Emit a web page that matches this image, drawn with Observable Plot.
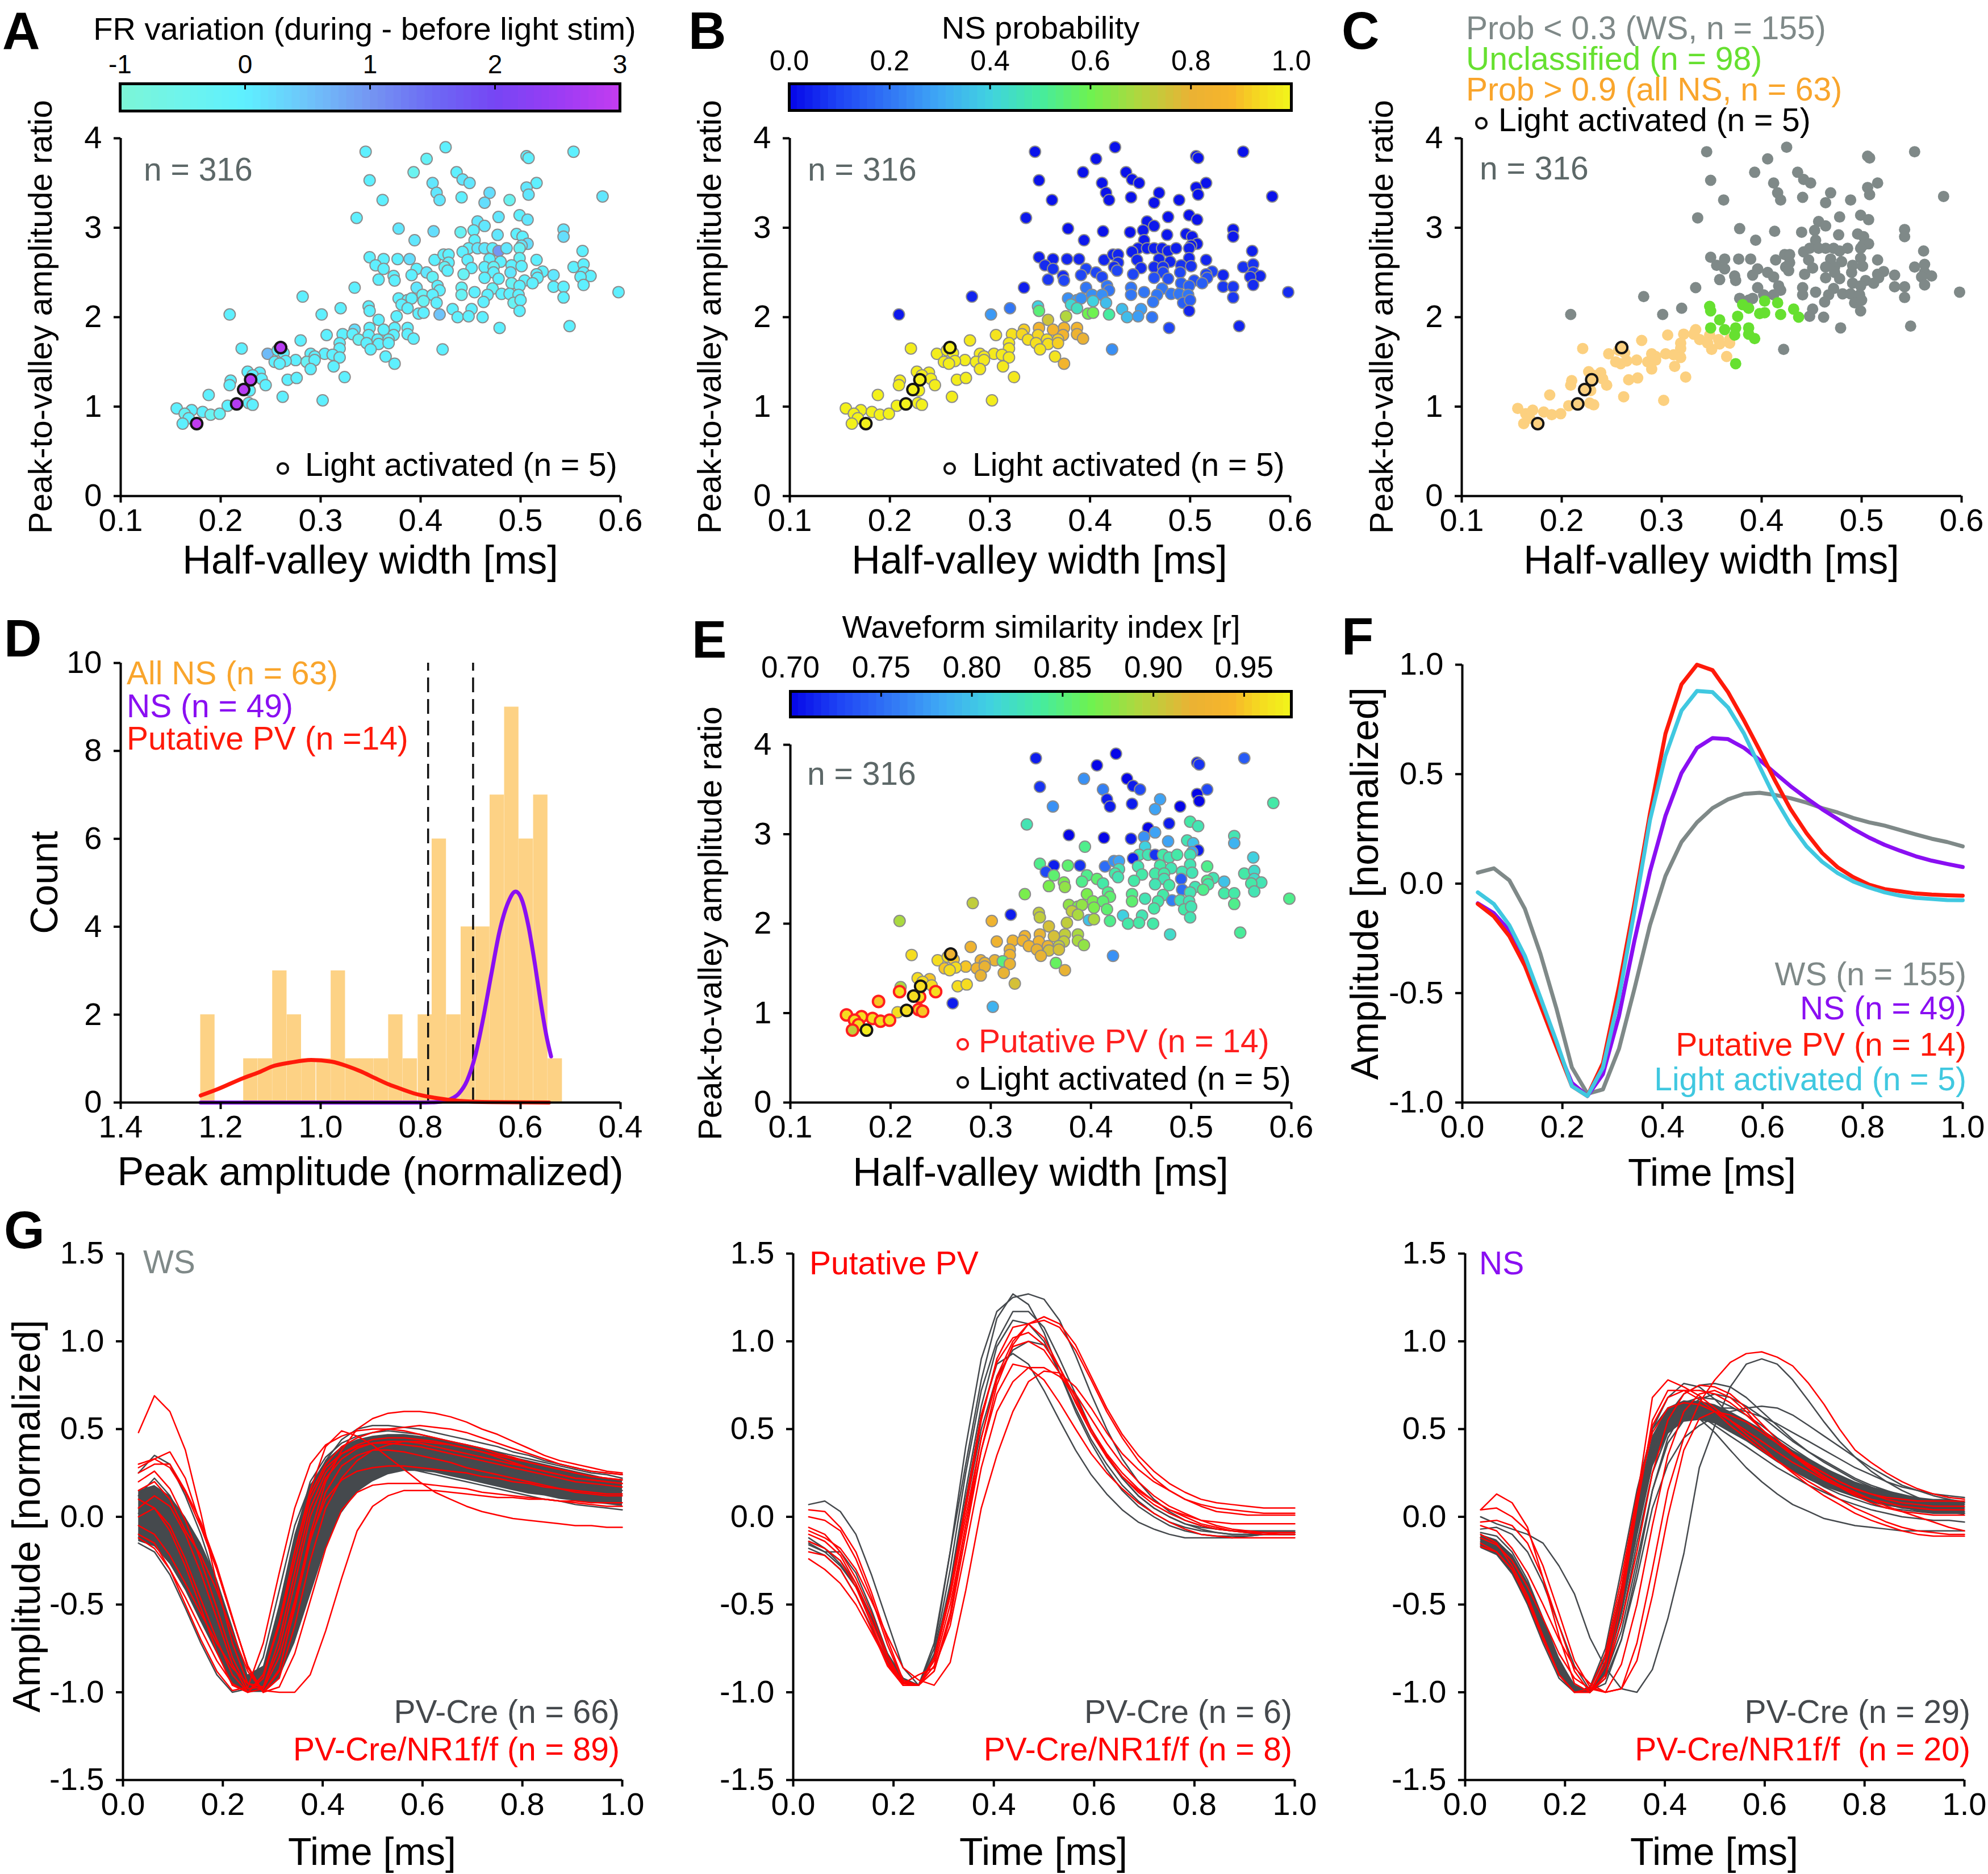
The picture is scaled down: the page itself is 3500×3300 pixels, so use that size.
<!DOCTYPE html>
<html><head><meta charset="utf-8">
<script src="https://cdn.jsdelivr.net/npm/d3@7"></script>
<script src="https://cdn.jsdelivr.net/npm/@observablehq/plot@0.6"></script>
<style>
html,body{margin:0;padding:0;background:#fff;}
#fig{position:relative;width:3500px;height:3300px;overflow:hidden;background:#fff;}
.p{position:absolute;}
</style></head><body><div id="fig"></div>
<script>
// ================= DATA =================
// Scatter (panels A, B, C, E): one entry per unit
const hvw = [ // half-valley width [ms]
0.345,0.425,0.506,0.508,0.553,0.406,0.393,0.436,0.442,0.449,0.349,0.412,0.516,0.506,0.416,0.469,0.508,0.582,0.362,0.419,0.441,0.464,0.489,0.336,0.478,0.499,0.507,0.457,0.464,
0.378,0.413,0.440,0.453,0.477,0.496,0.502,0.543,0.543,0.394,0.454,0.507,0.501,
0.448,0.457,0.464,0.472,0.478,0.486,0.499,0.562,0.442,0.349,0.363,0.377,0.389,0.414,0.423,0.428,0.447,0.469,0.480,0.499,0.516,
0.355,0.428,0.424,0.451,0.464,0.491,0.501,0.473,0.553,0.563,0.363,0.396,0.427,0.522,0.406,0.443,0.473,0.490,0.563,0.516,0.533,0.570,0.391,0.373,0.412,0.464,0.478,0.504,0.517,0.560,0.358,0.374,
0.512,0.491,0.499,0.417,0.563,0.334,0.396,0.441,0.533,0.543,0.419,0.454,0.472,0.441,0.467,0.481,0.489,0.498,0.598,0.402,0.412,0.378,0.387,0.391,0.403,0.416,0.463,0.493,0.543,0.500,
0.381,0.387,0.348,0.320,0.432,0.451,0.349,0.398,0.403,0.499,0.419,0.376,0.437,0.448,0.462,0.301,0.282,0.209,0.358,
0.479,0.549,0.349,0.374,0.387,0.334,0.363,0.322,0.332,0.306,0.348,0.373,0.387,0.338,0.357,0.368,0.393,0.280,0.319,0.346,0.358,0.368,
0.260,0.221,0.422,0.350,0.319,0.247,0.257,0.263,0.290,0.304,0.312,0.319,0.294,0.365,0.275,0.286,0.254,0.265,0.259,0.294,0.374,
0.313,0.290,0.227,0.239,0.232,0.324,0.267,0.276,0.230,0.241,0.210,0.209,0.245,
0.223,0.229,0.188,0.262,0.302,0.216,0.228,0.232,0.207,0.156,0.171,0.164,0.182,0.190,0.199,0.168,0.162,0.176];
const pva = [ // peak-to-valley amplitude ratio
3.85,3.90,3.80,3.78,3.85,3.77,3.62,3.62,3.54,3.50,3.53,3.50,3.50,3.45,3.39,3.39,3.37,3.35,3.31,3.31,3.34,3.28,3.31,3.11,3.12,3.14,3.09,3.07,3.02,
2.99,2.96,2.95,2.97,2.92,2.93,2.90,2.98,2.90,2.86,2.86,2.82,2.80,
2.77,2.77,2.77,2.77,2.74,2.77,2.77,2.74,2.73,2.67,2.65,2.65,2.65,2.64,2.70,2.70,2.64,2.65,2.62,2.66,2.64,
2.58,2.61,2.56,2.55,2.56,2.58,2.57,2.56,2.56,2.59,2.54,2.54,2.52,2.51,2.50,2.48,2.50,2.50,2.50,2.48,2.47,2.46,2.47,2.46,2.45,2.44,2.43,2.41,2.44,2.45,2.42,2.41,
2.38,2.38,2.35,2.35,2.36,2.33,2.33,2.33,2.34,2.34,2.30,2.28,2.32,2.25,2.25,2.26,2.26,2.25,2.28,2.25,2.25,2.21,2.19,2.21,2.18,2.16,2.17,2.16,2.22,2.19,
2.14,2.10,2.12,2.10,2.09,2.09,2.07,2.04,2.05,2.07,2.03,2.01,2.00,2.01,2.00,2.03,2.23,2.03,1.97,
1.88,1.90,1.88,1.88,1.88,1.86,1.86,1.81,1.81,1.80,1.80,1.80,1.81,1.75,1.75,1.75,1.76,1.74,1.71,1.71,1.70,1.71,
1.66,1.65,1.64,1.64,1.65,1.59,1.63,1.60,1.59,1.59,1.58,1.55,1.56,1.56,1.52,1.50,1.50,1.51,1.48,1.52,1.48,
1.45,1.42,1.39,1.38,1.35,1.33,1.30,1.32,1.30,1.31,1.29,1.24,1.24,
1.19,1.18,1.13,1.11,1.07,1.03,1.04,1.02,1.01,0.98,0.96,0.92,0.94,0.91,0.92,0.87,0.81,0.81];
const frVar = [ // FR variation (during - before light stim)
0,0,0,0,0,-0.2,-0.4,0,0.1,0.1,0,0.1,0,0.1,0.1,0.2,0.1,0.1,0,0.1,0,0.2,-0.4,0,0.1,0,0.1,0.1,0.1,
0.1,0.2,-0.3,0,0.1,0,0,0.1,0.2,0.1,0,0.2,0.1,
0,0.1,0.1,0,1.0,0.1,-0.3,0,0,0,0,0,0.2,0,0,0,0,0,0,-0.2,0,
0,0,-0.2,0,0,0,0,-0.2,0,0,0,0,0,0,0.1,-0.3,0,0.1,0,0,0.1,0,0,0,-0.2,0,0,0,0,0,0,0,
0,-0.3,0,0,0,0,0.1,-0.2,0,0,0,0,-0.2,-0.3,0,0,0,0,0,-0.2,0,0,0,0,-0.3,0,0,-0.3,0,0,
0,0,0,0,0,0,0,0,0,0,0.5,0,0,0,0,0,0,0,0,
0,0,0,0,0,0.2,0,0,0,0,0,0,0,-0.3,0,0,0,0,0,0,0,0,
2.85,0,0,0,0,0.6,0,0,0,0,0,0,0,0,0,-0.3,0,0,0,0,0,
0,0,0,0,0,0,0,0,2.9,0,0,0,0,
2.85,0,0,0,0,2.8,0,0,0,0,0,-0.3,0,-0.4,-0.2,0,0,2.95];
const nsProb = [ // NS probability
.02,.02,.02,.02,.02,.02,.02,.02,.02,.02,.02,.02,.02,.02,.02,.02,.02,.02,.02,.02,.02,.02,.02,.03,.02,.02,.02,.03,.03,
.02,.02,.02,.03,.03,.03,.03,.03,.03,.03,.03,.03,.03,
.04,.04,.04,.04,.04,.04,.04,.04,.04,.04,.04,.05,.05,.05,.05,.05,.05,.05,.05,.05,.05,
.06,.06,.06,.06,.06,.07,.07,.07,.07,.07,.07,.1,.1,.1,.1,.1,.1,.1,.08,.1,.05,.05,.1,.06,.1,.12,.12,.12,.12,.06,.08,.1,
.15,.15,.15,.2,.06,.04,.2,.2,.08,.08,.2,.2,.2,.2,.2,.2,.2,.2,.06,.25,.25,.25,.28,.25,.4,.35,.2,.15,.08,.15,
.42,.45,.4,.2,.35,.28,.55,.6,.6,.05,.5,.7,.35,.28,.2,.27,.05,.03,.75,
.1,.05,.85,.85,.85,.92,.85,.95,.93,.96,.93,.85,.82,.95,.95,.92,.8,.97,.97,.95,.95,.92,
.98,.98,.25,.96,.97,.98,.98,.98,.97,.97,.97,.97,.97,.96,.98,.98,.98,.98,.98,.97,.85,
.97,.97,.98,.98,.98,.97,.98,.98,.99,.98,.98,.98,.98,
.99,.99,.99,.98,.98,.99,.99,.99,.99,.99,.99,.99,.99,.99,.99,.99,.99,.99];
const wsIndex = [ // waveform similarity index [r]
.71,.70,.71,.72,.74,.70,.77,.70,.71,.73,.72,.76,.73,.70,.71,.78,.70,.835,.77,.71,.71,.78,.70,.83,.71,.835,.83,.70,.78,
.70,.70,.71,.77,.78,.83,.80,.83,.79,.845,.81,.71,.78,
.83,.83,.72,.835,.83,.835,.83,.81,.71,.845,.71,.855,.72,.75,.77,.78,.83,.835,.83,.83,.845,
.73,.83,.835,.835,.835,.83,.83,.835,.835,.82,.855,.845,.83,.83,.855,.835,.83,.74,.82,.845,.80,.83,.845,.87,.835,.83,.835,.83,.835,.835,.87,.88,
.845,.75,.83,.845,.83,.87,.87,.845,.835,.835,.855,.83,.835,.855,.835,.76,.83,.83,.845,.87,.855,.88,.87,.88,.87,.855,.835,.835,.845,.83,
.90,.89,.90,.71,.81,.83,.90,.80,.89,.83,.845,.90,.835,.835,.835,.93,.90,.89,.91,
.82,.84,.92,.90,.89,.93,.91,.93,.93,.93,.93,.90,.89,.93,.92,.90,.88,.93,.92,.92,.91,.91,
.93,.96,.77,.92,.93,.96,.96,.95,.93,.92,.85,.92,.92,.86,.95,.93,.95,.96,.96,.92,.92,
.92,.92,.96,.95,.96,.91,.96,.96,.96,.96,.89,.96,.96,
.96,.96,.95,.71,.79,.96,.95,.95,.96,.96,.96,.96,.96,.96,.96,.96,.90,.97];
const lightActivatedAt = [[0.260,1.66],[0.230,1.30],[0.223,1.19],[0.216,1.03],[0.176,0.81]];
const putativePVAt = [[0.209,1.24],[0.245,1.24],[0.229,1.18],[0.188,1.13],[0.228,1.04],[0.232,1.02],[0.156,0.98],
  [0.171,0.96],[0.164,0.92],[0.182,0.94],[0.190,0.91],[0.199,0.92],[0.168,0.87],[0.162,0.81]];

// Panel D: histogram of peak amplitude (all NS) + fits
const binWidth = 0.0287;
const histCenter = [1.226,1.140,1.111,1.082,1.053,1.024,0.994,0.965,0.936,0.908,0.879,0.850,0.821,0.791,0.763,0.734,0.705,0.676,0.647,0.618,0.589,0.560,0.531];
const histCount  = [2,1,1,3,2,1,1,3,1,1,1,2,1,2,6,2,4,4,7,9,6,7,1];
const pvFitX = [1.240,1.207,1.154,1.125,1.097,1.060,1.019,0.978,0.945,0.920,0.892,0.863,0.839,0.814,0.773,0.724,0.658,0.543];
const pvFitY = [0.16,0.30,0.56,0.68,0.82,0.91,0.97,0.93,0.82,0.71,0.56,0.41,0.31,0.21,0.11,0.04,0.01,0.0];
const nsFitX = [1.240,0.790,0.760,0.740,0.724,0.707,0.691,0.675,0.658,0.642,0.625,0.610,0.597,0.584,0.572,0.560,0.548,0.539];
const nsFitY = [0,0,0.02,0.08,0.2,0.5,1.05,1.9,2.95,3.9,4.55,4.8,4.6,4.0,3.2,2.3,1.5,1.05];
const cutoffs = [0.785, 0.695];

// Waveform time base [ms]
const timeMs = [0.031,0.063,0.094,0.125,0.156,0.188,0.219,0.25,0.281,0.313,0.344,0.375,0.406,0.438,0.469,0.5,0.531,0.563,0.594,0.625,0.656,0.688,0.719,0.75,0.781,0.813,0.844,0.875,0.906,0.938,0.969,1.0];

// Panel F: mean waveforms
const meanWS = [0.05,0.07,0.015,-0.115,-0.32,-0.57,-0.84,-0.96,-0.94,-0.755,-0.48,-0.19,0.035,0.19,0.28,0.345,0.385,0.41,0.415,0.405,0.39,0.37,0.345,0.325,0.30,0.28,0.265,0.245,0.225,0.205,0.19,0.17];
const meanNS = [-0.09,-0.135,-0.215,-0.36,-0.55,-0.74,-0.91,-0.97,-0.87,-0.605,-0.26,0.055,0.31,0.505,0.62,0.665,0.66,0.62,0.565,0.505,0.445,0.39,0.34,0.295,0.25,0.21,0.177,0.15,0.125,0.105,0.09,0.076];
const meanPV = [-0.093,-0.15,-0.24,-0.375,-0.555,-0.745,-0.925,-0.97,-0.82,-0.47,-0.09,0.32,0.685,0.91,1.0,0.975,0.875,0.745,0.61,0.47,0.34,0.23,0.14,0.075,0.03,-0.005,-0.025,-0.035,-0.045,-0.05,-0.053,-0.055];
const meanLA = [-0.04,-0.093,-0.19,-0.33,-0.52,-0.72,-0.925,-0.97,-0.84,-0.52,-0.125,0.29,0.585,0.79,0.88,0.875,0.805,0.685,0.535,0.39,0.27,0.17,0.10,0.048,0.01,-0.018,-0.04,-0.055,-0.065,-0.07,-0.075,-0.076];

// Panel G1 (WS): dense PV-Cre core (envelope) + individual traces
const wsCoreHi = [0.15,0.18,0.12,0.0,-0.15,-0.35,-0.62,-0.9,-0.85,-0.5,-0.1,0.18,0.32,0.4,0.44,0.46,0.47,0.47,0.46,0.45,0.43,0.41,0.39,0.37,0.34,0.32,0.3,0.28,0.26,0.24,0.22,0.21];
const wsCoreLo = [-0.14,-0.17,-0.27,-0.42,-0.6,-0.78,-0.95,-1.0,-1.0,-0.92,-0.72,-0.45,-0.18,0.02,0.14,0.2,0.24,0.26,0.26,0.25,0.23,0.21,0.19,0.17,0.15,0.13,0.12,0.1,0.09,0.08,0.07,0.06];
const wsGray = [
[0.12,0.22,0.12,-0.05,-0.25,-0.5,-0.78,-0.97,-0.9,-0.55,-0.12,0.2,0.34,0.42,0.46,0.48,0.49,0.48,0.47,0.45,0.43,0.41,0.39,0.37,0.35,0.33,0.31,0.29,0.27,0.25,0.24,0.22],
[0.25,0.35,0.3,0.12,-0.1,-0.38,-0.68,-0.92,-0.98,-0.7,-0.28,0.12,0.32,0.44,0.5,0.52,0.52,0.51,0.5,0.48,0.46,0.44,0.42,0.4,0.37,0.35,0.32,0.3,0.28,0.26,0.25,0.24],
[-0.15,-0.2,-0.33,-0.52,-0.72,-0.9,-1.0,-0.98,-0.8,-0.42,-0.05,0.18,0.28,0.32,0.33,0.32,0.3,0.28,0.26,0.24,0.22,0.2,0.18,0.16,0.14,0.12,0.1,0.09,0.07,0.06,0.05,0.04],
[0.02,0.05,-0.05,-0.22,-0.45,-0.7,-0.92,-1.0,-0.95,-0.68,-0.3,0.05,0.22,0.32,0.37,0.39,0.4,0.39,0.38,0.36,0.34,0.32,0.3,0.28,0.26,0.24,0.22,0.2,0.18,0.17,0.16,0.15]];
const wsRed = [
[0.48,0.69,0.60,0.38,0.02,-0.38,-0.72,-0.95,-0.97,-0.75,-0.38,0.0,0.22,0.33,0.39,0.42,0.43,0.43,0.42,0.4,0.38,0.36,0.34,0.32,0.3,0.28,0.26,0.24,0.22,0.21,0.2,0.19],
[0.1,0.05,-0.08,-0.28,-0.52,-0.77,-0.96,-1.0,-0.9,-0.6,-0.2,0.15,0.4,0.49,0.46,0.41,0.34,0.27,0.2,0.14,0.1,0.06,0.03,0.01,-0.01,-0.02,-0.03,-0.04,-0.05,-0.05,-0.06,-0.06],
[0.3,0.33,0.28,0.14,-0.06,-0.3,-0.58,-0.85,-1.0,-0.88,-0.5,-0.1,0.2,0.38,0.5,0.56,0.59,0.6,0.6,0.59,0.57,0.54,0.5,0.47,0.43,0.39,0.35,0.32,0.3,0.28,0.26,0.25],
[-0.05,-0.1,-0.22,-0.38,-0.55,-0.72,-0.86,-0.95,-0.99,-1.0,-1.0,-0.9,-0.65,-0.35,-0.08,0.06,0.12,0.15,0.15,0.15,0.14,0.13,0.12,0.11,0.11,0.1,0.1,0.09,0.09,0.08,0.08,0.08],
[0.28,0.33,0.37,0.22,-0.05,-0.3,-0.58,-0.85,-1.0,-0.92,-0.62,-0.25,0.05,0.22,0.32,0.38,0.41,0.43,0.43,0.42,0.41,0.39,0.37,0.35,0.33,0.31,0.29,0.27,0.25,0.23,0.22,0.21],
[0.2,0.26,0.16,-0.02,-0.25,-0.52,-0.8,-0.98,-0.97,-0.7,-0.32,0.05,0.25,0.36,0.41,0.44,0.45,0.45,0.44,0.43,0.41,0.39,0.37,0.34,0.31,0.28,0.26,0.24,0.22,0.21,0.2,0.19],
[-0.1,-0.15,-0.3,-0.5,-0.7,-0.88,-0.99,-0.97,-0.72,-0.32,0.05,0.3,0.41,0.46,0.49,0.5,0.5,0.49,0.47,0.45,0.43,0.41,0.39,0.36,0.34,0.31,0.29,0.27,0.25,0.23,0.22,0.21],
[0.0,0.05,-0.05,-0.24,-0.47,-0.7,-0.9,-1.0,-0.98,-0.8,-0.48,-0.12,0.1,0.21,0.26,0.28,0.29,0.29,0.28,0.27,0.26,0.25,0.23,0.22,0.2,0.19,0.17,0.16,0.15,0.14,0.13,0.13],
[0.15,0.2,0.1,-0.08,-0.22,-0.42,-0.66,-0.88,-1.0,-0.97,-0.78,-0.48,-0.18,0.04,0.14,0.18,0.19,0.19,0.19,0.18,0.17,0.16,0.14,0.13,0.12,0.11,0.1,0.09,0.08,0.07,0.06,0.06],
[0.05,0.12,0.06,-0.1,-0.32,-0.58,-0.84,-1.0,-0.92,-0.6,-0.2,0.13,0.3,0.4,0.45,0.48,0.5,0.51,0.52,0.51,0.5,0.48,0.45,0.42,0.39,0.36,0.33,0.3,0.28,0.26,0.25,0.24],
[0.25,0.3,0.3,0.15,-0.03,-0.28,-0.57,-0.86,-1.0,-0.87,-0.52,-0.14,0.14,0.29,0.35,0.38,0.38,0.37,0.35,0.33,0.31,0.28,0.26,0.24,0.22,0.2,0.18,0.16,0.14,0.13,0.12,0.12],
[-0.12,-0.18,-0.3,-0.46,-0.64,-0.82,-0.95,-1.0,-0.9,-0.62,-0.25,0.1,0.28,0.36,0.4,0.42,0.42,0.41,0.4,0.38,0.36,0.34,0.32,0.3,0.28,0.26,0.24,0.22,0.2,0.19,0.18,0.17]];

// Panel G2 (Putative PV)
const pvGray = [
[0.07,0.09,0.03,-0.1,-0.33,-0.6,-0.86,-0.96,-0.75,-0.2,0.4,0.9,1.17,1.25,1.27,1.24,1.12,0.92,0.7,0.5,0.33,0.2,0.1,0.03,-0.02,-0.05,-0.07,-0.08,-0.09,-0.09,-0.09,-0.09],
[-0.15,-0.2,-0.28,-0.4,-0.58,-0.78,-0.92,-0.96,-0.72,-0.2,0.3,0.78,1.13,1.27,1.21,1.05,0.82,0.6,0.42,0.27,0.15,0.06,0.0,-0.05,-0.08,-0.1,-0.11,-0.11,-0.11,-0.1,-0.1,-0.1],
[-0.18,-0.22,-0.3,-0.45,-0.63,-0.82,-0.94,-0.96,-0.78,-0.3,0.25,0.72,1.0,1.17,1.17,1.08,0.9,0.7,0.5,0.34,0.22,0.12,0.05,0.0,-0.04,-0.07,-0.09,-0.1,-0.1,-0.1,-0.1,-0.1],
[-0.12,-0.18,-0.25,-0.38,-0.57,-0.78,-0.92,-0.96,-0.8,-0.38,0.15,0.63,0.97,1.12,1.1,1.0,0.82,0.62,0.44,0.3,0.18,0.09,0.02,-0.03,-0.06,-0.08,-0.09,-0.1,-0.1,-0.09,-0.09,-0.09],
[-0.16,-0.2,-0.2,-0.32,-0.53,-0.78,-0.94,-0.96,-0.8,-0.4,0.1,0.58,0.87,0.93,0.87,0.72,0.55,0.38,0.24,0.13,0.04,-0.03,-0.07,-0.1,-0.12,-0.12,-0.12,-0.12,-0.11,-0.1,-0.1,-0.1],
[-0.14,-0.18,-0.27,-0.4,-0.58,-0.8,-0.93,-0.96,-0.8,-0.42,0.05,0.5,0.8,0.95,1.0,0.98,0.85,0.68,0.5,0.35,0.22,0.12,0.05,0.0,-0.04,-0.06,-0.07,-0.08,-0.08,-0.08,-0.08,-0.08]];
const pvRed = [
[0.04,0.03,-0.06,-0.2,-0.43,-0.7,-0.93,-0.96,-0.88,-0.58,-0.1,0.38,0.75,0.98,1.1,1.14,1.1,0.98,0.8,0.62,0.47,0.35,0.26,0.19,0.14,0.1,0.08,0.07,0.06,0.05,0.05,0.05],
[0.0,-0.02,-0.08,-0.24,-0.46,-0.73,-0.94,-0.96,-0.88,-0.55,-0.05,0.45,0.8,1.0,1.1,1.12,1.08,0.95,0.78,0.6,0.45,0.32,0.22,0.15,0.1,0.06,0.03,0.02,0.01,0.01,0.01,0.01],
[-0.06,-0.1,-0.2,-0.35,-0.55,-0.79,-0.95,-0.96,-0.82,-0.45,0.05,0.55,0.9,1.08,1.1,1.02,0.85,0.65,0.48,0.34,0.23,0.15,0.09,0.04,0.01,-0.02,-0.03,-0.04,-0.04,-0.04,-0.04,-0.04],
[-0.1,-0.14,-0.22,-0.38,-0.59,-0.81,-0.95,-0.96,-0.8,-0.42,0.08,0.58,0.88,1.02,1.05,0.98,0.85,0.68,0.5,0.35,0.23,0.14,0.07,0.02,-0.02,-0.05,-0.07,-0.08,-0.09,-0.09,-0.09,-0.09],
[-0.14,-0.18,-0.25,-0.4,-0.61,-0.84,-0.96,-0.96,-0.82,-0.45,0.0,0.45,0.78,0.97,1.0,0.95,0.82,0.66,0.5,0.36,0.25,0.16,0.09,0.04,0.0,-0.04,-0.06,-0.08,-0.09,-0.1,-0.1,-0.1],
[-0.2,-0.22,-0.3,-0.45,-0.64,-0.85,-0.96,-0.96,-0.85,-0.5,-0.05,0.38,0.7,0.87,0.85,0.78,0.65,0.5,0.36,0.25,0.16,0.08,0.02,-0.03,-0.07,-0.1,-0.11,-0.12,-0.12,-0.12,-0.12,-0.12],
[-0.24,-0.3,-0.38,-0.5,-0.66,-0.83,-0.95,-0.9,-0.86,-0.62,-0.18,0.28,0.6,0.77,0.85,0.85,0.8,0.7,0.56,0.42,0.3,0.2,0.12,0.06,0.02,-0.02,-0.05,-0.07,-0.08,-0.09,-0.1,-0.1],
[-0.08,-0.12,-0.18,-0.3,-0.48,-0.68,-0.86,-0.93,-0.96,-0.83,-0.42,0.05,0.35,0.6,0.77,0.83,0.82,0.74,0.62,0.48,0.36,0.27,0.2,0.15,0.1,0.07,0.05,0.04,0.03,0.02,0.02,0.02]];

// Panel G3 (NS)
const nsCoreHi = [-0.1,-0.13,-0.22,-0.37,-0.57,-0.8,-0.96,-1.0,-0.82,-0.4,0.08,0.46,0.62,0.66,0.66,0.64,0.6,0.55,0.5,0.44,0.38,0.33,0.28,0.24,0.2,0.17,0.15,0.13,0.11,0.1,0.1,0.09];
const nsCoreLo = [-0.18,-0.22,-0.33,-0.5,-0.7,-0.9,-1.0,-1.0,-0.9,-0.58,-0.12,0.28,0.47,0.54,0.55,0.53,0.48,0.43,0.37,0.31,0.26,0.21,0.17,0.14,0.11,0.08,0.06,0.05,0.03,0.02,0.02,0.01];
const nsGray = [
[0.0,-0.04,-0.07,-0.1,-0.15,-0.28,-0.44,-0.69,-0.86,-0.98,-1.0,-0.87,-0.58,-0.21,0.28,0.52,0.74,0.87,0.9,0.87,0.78,0.66,0.54,0.43,0.34,0.26,0.2,0.15,0.11,0.08,0.05,0.03],
[-0.15,-0.18,-0.28,-0.45,-0.67,-0.88,-0.99,-1.0,-0.85,-0.45,0.05,0.45,0.62,0.66,0.64,0.6,0.55,0.49,0.43,0.37,0.31,0.26,0.21,0.17,0.14,0.11,0.09,0.07,0.06,0.05,0.05,0.05],
[-0.12,-0.15,-0.25,-0.42,-0.63,-0.85,-0.98,-1.0,-0.88,-0.55,-0.1,0.3,0.55,0.65,0.68,0.67,0.63,0.58,0.52,0.45,0.39,0.33,0.28,0.23,0.19,0.16,0.13,0.11,0.1,0.09,0.09,0.09],
[-0.17,-0.2,-0.3,-0.48,-0.7,-0.9,-1.0,-0.98,-0.8,-0.4,0.08,0.5,0.68,0.76,0.74,0.67,0.58,0.5,0.42,0.35,0.28,0.22,0.17,0.13,0.1,0.07,0.05,0.04,0.03,0.02,0.02,0.02],
[-0.13,-0.16,-0.24,-0.4,-0.6,-0.82,-0.96,-1.0,-0.9,-0.6,-0.15,0.25,0.48,0.58,0.56,0.48,0.38,0.28,0.2,0.13,0.07,0.03,-0.01,-0.03,-0.05,-0.06,-0.07,-0.08,-0.08,-0.08,-0.08,-0.08],
[-0.07,-0.06,-0.1,-0.2,-0.38,-0.62,-0.85,-0.99,-0.95,-0.7,-0.3,0.15,0.45,0.6,0.67,0.7,0.68,0.63,0.57,0.5,0.43,0.37,0.32,0.27,0.22,0.18,0.15,0.12,0.1,0.09,0.08,0.07],
[-0.14,-0.17,-0.27,-0.44,-0.65,-0.86,-0.98,-1.0,-0.92,-0.7,-0.35,0.05,0.3,0.45,0.52,0.57,0.6,0.62,0.63,0.62,0.58,0.52,0.46,0.4,0.34,0.28,0.23,0.18,0.15,0.12,0.1,0.08],
[-0.16,-0.19,-0.3,-0.47,-0.68,-0.89,-0.99,-1.0,-0.86,-0.5,0.0,0.42,0.6,0.65,0.63,0.58,0.52,0.46,0.4,0.34,0.28,0.23,0.19,0.15,0.12,0.09,0.07,0.05,0.04,0.03,0.02,0.02],
[-0.09,-0.11,-0.2,-0.36,-0.58,-0.82,-0.97,-1.0,-0.86,-0.5,-0.02,0.38,0.58,0.7,0.75,0.76,0.74,0.68,0.6,0.52,0.44,0.37,0.31,0.26,0.21,0.17,0.14,0.12,0.1,0.09,0.08,0.08],
[-0.16,-0.2,-0.32,-0.5,-0.72,-0.92,-1.0,-0.97,-0.75,-0.3,0.15,0.5,0.62,0.62,0.58,0.52,0.46,0.4,0.34,0.28,0.23,0.18,0.14,0.1,0.07,0.04,0.02,0.0,-0.01,-0.02,-0.02,-0.03],
[-0.12,-0.14,-0.22,-0.38,-0.6,-0.84,-0.98,-1.0,-0.9,-0.65,-0.25,0.15,0.42,0.55,0.6,0.62,0.62,0.6,0.57,0.53,0.48,0.43,0.38,0.33,0.28,0.24,0.2,0.17,0.15,0.13,0.12,0.11]];
const nsRed = [
[-0.05,-0.08,-0.18,-0.32,-0.5,-0.7,-0.86,-0.95,-1.0,-0.98,-0.72,-0.3,0.15,0.45,0.65,0.78,0.88,0.93,0.94,0.91,0.86,0.76,0.64,0.5,0.38,0.31,0.25,0.2,0.16,0.13,0.11,0.1],
[0.04,0.13,0.08,-0.06,-0.35,-0.68,-0.95,-1.0,-0.92,-0.5,0.05,0.55,0.72,0.72,0.67,0.6,0.52,0.45,0.38,0.32,0.26,0.2,0.15,0.1,0.05,0.01,-0.03,-0.06,-0.08,-0.09,-0.1,-0.1],
[0.04,0.05,0.0,-0.08,-0.28,-0.55,-0.82,-0.97,-1.0,-0.84,-0.5,-0.05,0.35,0.6,0.7,0.72,0.68,0.6,0.5,0.42,0.35,0.3,0.25,0.2,0.16,0.13,0.11,0.1,0.09,0.09,0.09,0.09],
[-0.12,-0.16,-0.25,-0.4,-0.58,-0.78,-0.92,-0.98,-1.0,-0.98,-0.82,-0.45,0.0,0.38,0.56,0.6,0.58,0.54,0.48,0.42,0.36,0.3,0.25,0.2,0.16,0.13,0.1,0.08,0.07,0.06,0.06,0.06],
[-0.15,-0.2,-0.3,-0.48,-0.7,-0.9,-1.0,-1.0,-0.85,-0.45,0.1,0.68,0.78,0.74,0.69,0.62,0.55,0.47,0.4,0.32,0.25,0.18,0.12,0.07,0.02,-0.02,-0.05,-0.08,-0.1,-0.11,-0.11,-0.11],
[-0.1,-0.15,-0.28,-0.45,-0.68,-0.9,-1.0,-1.0,-0.82,-0.4,0.1,0.52,0.68,0.72,0.72,0.7,0.65,0.58,0.5,0.42,0.35,0.28,0.22,0.17,0.12,0.08,0.05,0.03,0.02,0.01,0.01,0.01],
[-0.17,-0.2,-0.3,-0.47,-0.68,-0.9,-1.0,-0.98,-0.78,-0.35,0.12,0.48,0.62,0.65,0.64,0.6,0.55,0.49,0.43,0.37,0.31,0.26,0.21,0.17,0.13,0.1,0.08,0.06,0.05,0.04,0.04,0.04],
[-0.03,-0.02,-0.05,-0.15,-0.35,-0.62,-0.88,-1.0,-0.9,-0.6,-0.2,0.25,0.55,0.7,0.75,0.74,0.7,0.62,0.53,0.44,0.36,0.29,0.23,0.18,0.14,0.1,0.06,0.03,0.0,-0.03,-0.06,-0.08]];

// Tick values
const scatterXTicks = [0.1,0.2,0.3,0.4,0.5,0.6];
const scatterYTicks = [0,1,2,3,4];
const histXTicks = [1.4,1.2,1.0,0.8,0.6,0.4];
const histYTicks = [0,2,4,6,8,10];
const timeTicks = [0,0.2,0.4,0.6,0.8,1.0];
const meanYTicks = [-1,-0.5,0,0.5,1];
const waveYTicks = [-1.5,-1,-0.5,0,0.5,1,1.5];

// Colour maps
const frStops = [-1,-0.5,0,0.5,1,1.5,2,2.5,3];
const frColors = ["#7cf5d6","#6ef4ec","#5ef0ff","#6ec4fa","#7496f2","#6c6af4","#7646f4","#9a3cf4","#c43cf0"];
const palT = [0,0.1,0.2,0.3,0.4,0.5,0.6,0.7,0.8,0.88,0.94,1];
const palColors = ["#0505e8","#1f45f5","#3176f5","#3fa8f5","#40d2e0","#45eca0","#6ef250","#b2d63e","#eab234","#f7b52a","#f5dc20","#f2f51a"];
const wsiDomain = [0.70, 0.976];

// ================= RENDER =================
const FONT = "Liberation Sans, Arial, Helvetica, sans-serif";
const fig = document.getElementById("fig");
function put(el, left, top) {
  const d = document.createElement("div");
  d.className = "p"; d.style.left = left + "px"; d.style.top = top + "px";
  d.appendChild(el); fig.appendChild(d);
}
const baseStyle = {background: "transparent", fontSize: "56px", fontFamily: FONT, color: "#000", overflow: "visible", maxWidth: "none"};
function panel(fr, options, marks) {
  const ml = 170, mr = 60, mt = 40, mb = 110;
  const svg = Plot.plot({width: fr.w + ml + mr, height: fr.h + mt + mb,
    marginLeft: ml, marginRight: mr, marginTop: mt, marginBottom: mb,
    style: baseStyle, ...options, marks});
  put(svg, fr.x - ml, fr.y - mt);
}
function axes(xTicks, yTicks, xFmt, yFmt, x0, y0) {
  return [
    Plot.axisX({ticks: xTicks, tickFormat: xFmt, tickSize: 12, tickPadding: 10, strokeWidth: 4, label: null}),
    Plot.axisY({ticks: yTicks, tickFormat: yFmt, tickSize: 12, tickPadding: 21, strokeWidth: 4, label: null}),
    Plot.ruleY([y0], {strokeWidth: 4}),
    Plot.ruleX([x0], {strokeWidth: 4})
  ];
}
const f1 = d => d.toFixed(1), f0 = d => String(d);

const idx = d3.range(Math.min(hvw.length, pva.length));
const findIdx = list => list.map(([x, y]) => idx.find(i => hvw[i] === x && pva[i] === y)).filter(i => i !== undefined);
const laIdx = findIdx(lightActivatedAt), pvIdx = findIdx(putativePVAt);
const xy = {x: i => hvw[i], y: i => pva[i]};
const scatterScales = {x: {domain: [0.1, 0.6], label: null}, y: {domain: [0, 4], label: null}};
const scatterAxes = () => axes(scatterXTicks, scatterYTicks, f1, f0, 0.1, 0);
const PT = 10;

// A
panel({x: 212, y: 243, w: 880, h: 630},
  {...scatterScales, color: {type: "linear", domain: frStops, range: frColors, interpolate: "rgb", clamp: true}},
  [...scatterAxes(),
   Plot.dot(idx, {...xy, r: PT, fill: i => frVar[i], stroke: "#8c8c8c", strokeWidth: 2}),
   Plot.dot(laIdx, {...xy, r: PT, fill: i => frVar[i], stroke: "#151515", strokeWidth: 4})]);
// B
const palB = palT.map(t => t);
panel({x: 1390, y: 243, w: 881, h: 630},
  {...scatterScales, color: {type: "linear", domain: palB, range: palColors, interpolate: "rgb", clamp: true}},
  [...scatterAxes(),
   Plot.dot(idx, {...xy, r: PT, fill: i => nsProb[i], stroke: "#8c8c8c", strokeWidth: 2}),
   Plot.dot(laIdx, {...xy, r: PT, fill: i => nsProb[i], stroke: "#151515", strokeWidth: 4})]);
// C
const cat = i => nsProb[i] < 0.3 ? "WS" : nsProb[i] > 0.9 ? "NS" : "Unclassified";
const catOrder = {WS: 0, NS: 1, Unclassified: 2};
const idxC = idx.slice().sort((a, b) => catOrder[cat(a)] - catOrder[cat(b)]);
panel({x: 2573, y: 243, w: 880, h: 630},
  {...scatterScales, color: {type: "ordinal", domain: ["WS", "Unclassified", "NS"], range: ["#7f8988", "#66e030", "#fcd07f"]}},
  [...scatterAxes(),
   Plot.dot(idxC, {...xy, r: PT, fill: i => cat(i)}),
   Plot.dot(laIdx, {...xy, r: PT, fill: i => cat(i), stroke: "#151515", strokeWidth: 4})]);
// E
const palE = palT.map(t => wsiDomain[0] + t * (wsiDomain[1] - wsiDomain[0]));
panel({x: 1391, y: 1311, w: 882, h: 630},
  {...scatterScales, color: {type: "linear", domain: palE, range: palColors, interpolate: "rgb", clamp: true}},
  [...scatterAxes(),
   Plot.dot(idx, {...xy, r: PT, fill: i => wsIndex[i], stroke: "#8c8c8c", strokeWidth: 2}),
   Plot.dot(pvIdx, {...xy, r: PT, fill: i => wsIndex[i], stroke: "#ff1f1f", strokeWidth: 4}),
   Plot.dot(laIdx, {...xy, r: PT, fill: i => wsIndex[i], stroke: "#151515", strokeWidth: 4})]);
// D
panel({x: 212, y: 1167, w: 880, h: 774},
  {x: {domain: [1.4, 0.4], label: null}, y: {domain: [0, 10], label: null}},
  [Plot.rect(d3.range(histCenter.length), {x1: i => histCenter[i] + binWidth / 2, x2: i => histCenter[i] - binWidth / 2,
      y1: () => 0, y2: i => histCount[i], fill: "#fdd285"}),
   Plot.ruleX(cutoffs, {y1: () => 0, y2: () => 10, stroke: "#111", strokeWidth: 3.5, strokeDasharray: "26,12"}),
   Plot.line(d3.range(nsFitX.length), {x: i => nsFitX[i], y: i => nsFitY[i], stroke: "#8a0ff2", strokeWidth: 7, curve: "monotone-x"}),
   Plot.line(d3.range(pvFitX.length), {x: i => pvFitX[i], y: i => pvFitY[i], stroke: "#ff1a0a", strokeWidth: 7, curve: "monotone-x"}),
   ...axes(histXTicks, histYTicks, f1, f0, 1.4, 0)]);
// F
const rows = (list, name) => list.flatMap((arr, s) => arr.slice(0, timeMs.length).map((v, k) => ({t: timeMs[k], v, s: name + s})));
panel({x: 2574, y: 1170, w: 881, h: 771},
  {x: {domain: [0, 1], label: null}, y: {domain: [-1, 1], label: null}},
  [...axes(timeTicks, meanYTicks, f1, f1, 0, -1),
   Plot.line(rows([meanWS], "ws"), {x: "t", y: "v", z: "s", stroke: "#7f8988", strokeWidth: 7}),
   Plot.line(rows([meanNS], "ns"), {x: "t", y: "v", z: "s", stroke: "#8a0ff2", strokeWidth: 7}),
   Plot.line(rows([meanPV], "pv"), {x: "t", y: "v", z: "s", stroke: "#ff1a0a", strokeWidth: 7}),
   Plot.line(rows([meanLA], "la"), {x: "t", y: "v", z: "s", stroke: "#40c8e0", strokeWidth: 7})]);
// G
const band = (lo, hi) => timeMs.map((t, k) => ({t, lo: lo[k], hi: hi[k]}));
const gScales = {x: {domain: [0, 1], label: null}, y: {domain: [-1.5, 1.5], label: null}};
const GRAY = "#45494d", RED = "#ff0000";
function wavePanel(fr, core, grays, reds) {
  panel(fr, gScales, [
    ...axes(timeTicks, waveYTicks, f1, f1, 0, -1.5),
    ...(core ? [Plot.areaY(band(core[0], core[1]), {x: "t", y1: "lo", y2: "hi", fill: GRAY})] : []),
    Plot.line(rows(grays, "g"), {x: "t", y: "v", z: "s", stroke: GRAY, strokeWidth: 2.5}),
    Plot.line(rows(reds, "r"), {x: "t", y: "v", z: "s", stroke: RED, strokeWidth: 2.5})]);
}
wavePanel({x: 216, y: 2207, w: 879, h: 927}, [wsCoreLo, wsCoreHi], wsGray, wsRed);
wavePanel({x: 1396, y: 2207, w: 883, h: 927}, null, pvGray, pvRed);
wavePanel({x: 2579, y: 2207, w: 879, h: 927}, [nsCoreLo, nsCoreHi], nsGray, nsRed);

// Colour bars
function colorbar(fr, o) {
  const ml = 70, mr = 70, mt = 90, mb = 10, n = 64;
  const step = (o.domain[1] - o.domain[0]) / n;
  const ramp = d3.range(n).map(i => o.domain[0] + i * step);
  const svg = Plot.plot({width: fr.w + ml + mr, height: fr.h + mt + mb, marginLeft: ml, marginRight: mr, marginTop: mt, marginBottom: mb,
    style: {...baseStyle, fontSize: o.size + "px"},
    x: {domain: o.domain, label: null}, y: {domain: [0, 1], label: null, axis: null},
    color: {type: "linear", domain: o.stops, range: o.colors, interpolate: "rgb", clamp: true},
    marks: [
      Plot.rect(ramp, {x1: d => d, x2: d => Math.min(d + step * 1.05, o.domain[1]), y1: () => 0, y2: () => 1, fill: d => d + step / 2}),
      Plot.ruleX(o.inner, {y1: () => 1, y2: () => 0.78, strokeWidth: 3}),
      Plot.frame({stroke: "#000", strokeWidth: 5}),
      Plot.axisX({anchor: "top", ticks: o.labels, tickFormat: o.fmt, tickSize: 0, tickPadding: o.pad, label: null})
    ]});
  put(svg, fr.x - ml, fr.y - mt);
}
colorbar({x: 211, y: 147, w: 880, h: 48}, {domain: [-1, 3], stops: frStops, colors: frColors, inner: [0, 1, 2], labels: [-1, 0, 1, 2, 3], fmt: f0, size: 46, pad: 19});
colorbar({x: 1389, y: 147, w: 884, h: 47}, {domain: [0, 1], stops: palB, colors: palColors, inner: [0.2, 0.4, 0.6, 0.8], labels: [0, 0.2, 0.4, 0.6, 0.8, 1], fmt: f1, size: 50, pad: 24});
colorbar({x: 1391, y: 1217, w: 882, h: 45}, {domain: wsiDomain, stops: palE, colors: palColors, inner: [0.75, 0.8, 0.85, 0.9, 0.95], labels: [0.70, 0.75, 0.80, 0.85, 0.90, 0.95], fmt: d => d.toFixed(2), size: 53, pad: 25});

// ================= TEXT OVERLAY =================
const ov = d3.create("svg").attr("width", 3500).attr("height", 3300)
  .style("position", "absolute").style("left", "0px").style("top", "0px")
  .style("font-family", FONT).style("pointer-events", "none");
function txt(x, y, s, o = {}) {
  const t = ov.append("text").attr("x", x).attr("y", y).attr("font-size", o.size || 57)
    .attr("text-anchor", o.anchor || "start").attr("fill", o.fill || "#000")
    .attr("font-weight", o.weight || "normal").style("white-space", "pre").text(s);
  if (o.rot) t.attr("transform", `rotate(-90 ${x} ${y})`);
  return t;
}
function ring(cx, cy, color) {
  ov.append("circle").attr("cx", cx).attr("cy", cy).attr("r", 9).attr("fill", "none").attr("stroke", color).attr("stroke-width", 4);
}
// panel letters
[["A", 4, 86], ["B", 1212, 86], ["C", 2362, 86], ["D", 7, 1156], ["E", 1218, 1158], ["F", 2362, 1152], ["G", 7, 2198]]
  .forEach(([l, x, y]) => txt(x, y, l, {size: 92, weight: "bold"}));
// colour bar titles
txt(642, 70, "FR variation (during - before light stim)", {size: 56, anchor: "middle"});
txt(1832, 68, "NS probability", {size: 56, anchor: "middle"});
txt(1833, 1123, "Waveform similarity index [r]", {size: 56, anchor: "middle"});
// n = 316
const NGRAY = "#5d6868";
[[253, 318], [1422, 318], [2605, 316], [1421, 1382]].forEach(([x, y]) => txt(x, y, "n = 316", {fill: NGRAY}));
// A/B legends
ring(498, 825, "#111"); txt(537, 838, "Light activated (n = 5)");
ring(1672, 825, "#111"); txt(1712, 838, "Light activated (n = 5)");
// C legend
txt(2581, 69, "Prob < 0.3 (WS, n = 155)", {fill: "#7f8988"});
txt(2581, 123, "Unclassified (n = 98)", {fill: "#66e030"});
txt(2581, 177, "Prob > 0.9 (all NS, n = 63)", {fill: "#f9a52c"});
ring(2608, 217, "#111"); txt(2638, 231, "Light activated (n = 5)");
// E legend
ring(1695, 1839, "#ff1f1f"); txt(1723, 1853, "Putative PV (n = 14)", {fill: "#ff1f1f"});
ring(1695, 1906, "#111"); txt(1723, 1919, "Light activated (n = 5)");
// D legend
txt(223, 1205, "All NS (n = 63)", {fill: "#f9a52c"});
txt(223, 1263, "NS (n = 49)", {fill: "#8a0ff2"});
txt(223, 1320, "Putative PV (n =14)", {fill: "#ff1a0a"});
// F legend
txt(3462, 1735, "WS (n = 155)", {anchor: "end", fill: "#7f8988"});
txt(3462, 1795, "NS (n = 49)", {anchor: "end", fill: "#8a0ff2"});
txt(3462, 1859, "Putative PV (n = 14)", {anchor: "end", fill: "#ff1a0a"});
txt(3462, 1920, "Light activated (n = 5)", {anchor: "end", fill: "#40c8e0"});
// G labels and legends
txt(252, 2242, "WS", {fill: "#7f8988"});
txt(1425, 2244, "Putative PV", {fill: RED});
txt(2604, 2244, "NS", {fill: "#8a0ff2"});
[[1091, "PV-Cre (n = 66)", "PV-Cre/NR1f/f (n = 89)"], [2275, "PV-Cre (n = 6)", "PV-Cre/NR1f/f (n = 8)"], [3469, "PV-Cre (n = 29)", "PV-Cre/NR1f/f  (n = 20)"]]
  .forEach(([x, a, b]) => { txt(x, 3034, a, {anchor: "end", fill: GRAY}); txt(x, 3100, b, {anchor: "end", fill: RED}); });
// axis titles
[[652, 1010], [1830, 1010], [3013, 1010], [1832, 2088]].forEach(([x, y]) => txt(x, y, "Half-valley width [ms]", {size: 70, anchor: "middle"}));
[[91, 558], [1269, 558], [2452, 558], [1270, 1626]].forEach(([x, y]) => txt(x, y, "Peak-to-valley amplitude ratio", {size: 58, anchor: "middle", rot: true}));
txt(101, 1554, "Count", {size: 68, anchor: "middle", rot: true});
txt(652, 2087, "Peak amplitude (normalized)", {size: 70, anchor: "middle"});
txt(2426, 1556, "Amplitude [normalized]", {size: 68, anchor: "middle", rot: true});
txt(3014, 2088, "Time [ms]", {size: 68, anchor: "middle"});
txt(70, 2670, "Amplitude [normalized]", {size: 68, anchor: "middle", rot: true});
[655, 1837, 3018].forEach(x => txt(x, 3284, "Time [ms]", {size: 68, anchor: "middle"}));
fig.appendChild(ov.node());
</script></body></html>
